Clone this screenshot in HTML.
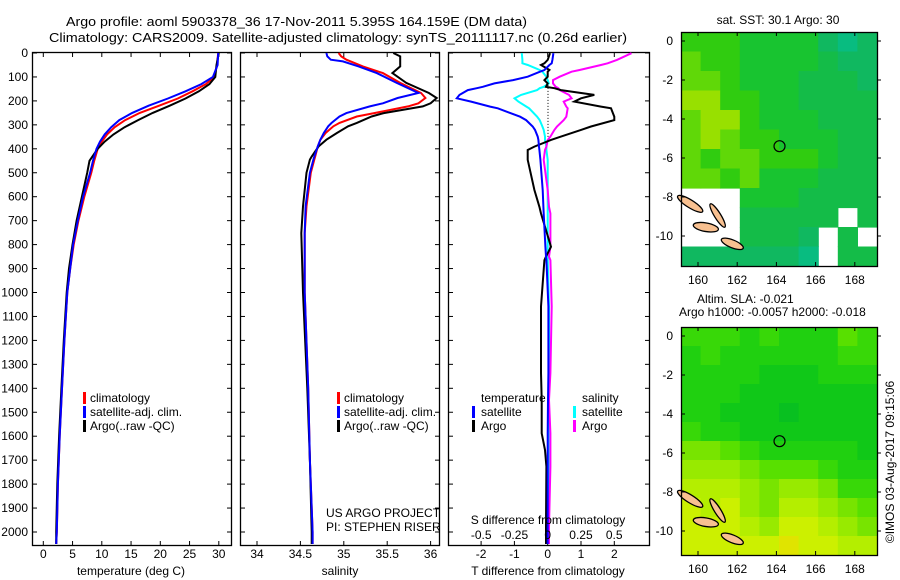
<!DOCTYPE html>
<html><head><meta charset="utf-8">
<style>
html,body{margin:0;padding:0;background:#fff;}
svg{display:block;font-family:"Liberation Sans",sans-serif;}
text{fill:#000;font-size:12px;}
</style></head>
<body>
<svg id="fig" width="900" height="580" viewBox="0 0 900 580" xmlns="http://www.w3.org/2000/svg">
<text x="66" y="26" font-size="13" textLength="461" lengthAdjust="spacingAndGlyphs" style="font-size:13px">Argo profile: aoml 5903378_36 17-Nov-2011 5.395S 164.159E (DM data)</text>
<text x="49" y="42" textLength="578" lengthAdjust="spacingAndGlyphs" style="font-size:13px">Climatology: CARS2009. Satellite-adjusted climatology: synTS_20111117.nc (0.26d earlier)</text>
<g id="g"></g>
</svg>
<script>
// ---------- data ----------
const depths = [0,50,100,130,160,190,220,250,280,310,340,370,400,450,500,600,700,800,900,1000,1200,1400,1600,1800,2000,2050];
const tClim  = [29.9,29.7,29.2,27.8,25.5,23.0,19.8,16.5,14.0,12.2,10.9,10.0,9.3,8.7,8.2,7.0,6.0,5.2,4.6,4.1,3.6,3.2,2.8,2.5,2.3,2.2];
const tSat   = [29.9,29.8,29.0,27.0,24.3,21.3,18.0,15.2,13.0,11.6,10.5,9.7,9.1,8.5,8.0,6.8,5.9,5.1,4.6,4.1,3.6,3.2,2.8,2.5,2.3,2.2];
const tArgo  = [30.0,29.6,29.4,28.4,26.6,24.3,21.6,18.7,16.2,13.9,12.0,10.5,9.3,7.9,7.5,6.6,5.7,5.0,4.4,4.0,3.5,3.1,2.7,2.4,2.2,2.2];

const sDepths = [0,14,28,35,56,84,125,167,188,210,223,251,265,292,306,334,362,390,432,445,500,640,752,1000,1400,1700,2000,2050];
const sClim = [34.94,34.97,35.03,35.08,35.22,35.45,35.65,35.89,35.94,35.86,35.74,35.35,35.15,34.95,34.88,34.79,34.73,34.70,34.67,34.66,34.62,34.57,34.55,34.55,34.59,34.61,34.64,34.64];
const sSat  = [34.80,34.81,34.85,34.99,35.17,35.38,35.61,35.86,35.62,35.45,35.30,35.03,34.95,34.86,34.82,34.77,34.73,34.70,34.66,34.65,34.61,34.56,34.55,34.55,34.59,34.61,34.64,34.64];
const sArgo = [35.57,35.65,35.65,35.65,35.65,35.56,35.72,35.98,36.07,36.00,35.91,35.46,35.32,35.15,35.05,34.92,34.80,34.71,34.63,34.61,34.57,34.53,34.51,34.53,34.58,34.61,34.63,34.63];

const dDepths = [1,29,43,50,71,78,99,113,127,141,147,155,175,189,203,224,231,266,280,307,321,349,363,391,405,446,572,642,670,809,850,865,1058,1336,1449,1588,1657,1727,1978,2050];
const dTSat  = [0.17,0.14,0.12,0.05,-0.1,-0.23,-0.6,-1.04,-1.6,-1.95,-2.13,-2.4,-2.65,-2.73,-2.3,-1.73,-1.5,-0.83,-0.65,-0.45,-0.38,-0.3,-0.28,-0.26,-0.25,-0.22,-0.15,-0.13,-0.12,-0.07,-0.05,-0.04,0.02,0.02,0.01,0.0,0.0,0.0,0.0,0.0];
const dTArgo = [0.07,0.0,-0.1,-0.2,0.05,0.0,0.0,-0.1,0.0,-0.05,0.2,0.4,1.4,1.0,0.8,1.6,1.9,2.0,2.0,1.3,1.0,0.4,0.1,-0.4,-0.6,-0.6,-0.4,-0.25,-0.2,0.1,-0.05,-0.1,-0.2,-0.2,-0.18,-0.18,-0.08,-0.04,-0.05,-0.05];
const dSSat  = [-0.195,-0.19,-0.19,-0.15,-0.06,-0.04,-0.01,0.0,0.008,-0.03,-0.06,-0.08,-0.2,-0.25,-0.22,-0.16,-0.14,-0.08,-0.06,-0.04,-0.03,-0.02,-0.02,-0.01,-0.01,0.0,0.0,0.0,0.0,0.0,0.0,0.0,0.01,0.01,0.01,0.01,0.01,0.01,0.01,0.01];
const dSArgo = [0.63,0.52,0.45,0.4,0.24,0.18,0.09,0.04,0.04,0.06,0.08,0.09,0.16,0.18,0.12,0.14,0.15,0.14,0.12,0.07,0.05,0.02,0.0,-0.01,-0.02,-0.03,0.0,0.01,0.02,0.02,0.01,0.02,0.03,0.02,0.01,0.02,0.02,0.02,0.01,0.01];

const depthTicks = [0,100,200,300,400,500,600,700,800,900,1000,1100,1200,1300,1400,1500,1600,1700,1800,1900,2000];
const tTicks = [0,5,10,15,20,25,30];
const sTicks = [34,34.5,35,35.5,36];
const dTTicks = [-2,-1,0,1,2];
const dSTicks = [-0.5,-0.25,0,0.25,0.5];
const lonTicks = [160,162,164,166,168];
const latTicks = [0,-2,-4,-6,-8,-10];

// SST map grid (index values, -1 = no data), rows north->south
const sstGrid = [
 [5,5,5,4,4,4,4,2,1,2],
 [6,5,5,4,4,4,4,3,2,2],
 [6,6,5,4,4,4,3,3,3,2],
 [7,7,5,5,4,4,3,3,3,3],
 [6,7,7,5,4,4,4,3,3,3],
 [6,7,6,5,5,4,4,4,3,3],
 [6,5,6,6,5,5,5,4,3,3],
 [6,6,5,6,4,4,4,3,3,3],
 [-1,-1,-1,4,4,4,3,3,3,3],
 [-1,-1,-1,3,3,3,3,3,-1,3],
 [-1,-1,-1,3,3,3,2,-1,3,-1],
 [2,2,2,2,2,2,1,-1,3,3]
];
const slaGrid = [
 [3,3,3,2,3,2,2,2,4,3],
 [2,3,2,2,2,2,2,2,3,3],
 [2,2,2,2,1,1,1,2,2,2],
 [2,2,2,1,1,1,1,1,1,1],
 [2,2,1,1,1,0,1,1,1,1],
 [3,2,2,1,1,1,1,1,1,1],
 [5,5,4,3,2,2,2,2,2,1],
 [6,6,6,5,4,4,4,3,2,2],
 [7,7,7,6,5,6,6,5,3,3],
 [8,7,8,6,5,7,7,6,5,4],
 [8,8,8,7,6,8,8,7,6,5],
 [8,8,8,8,8,9,8,8,7,7]
];
const argoLon = 164.159, argoLat = -5.395;

// ---------- helpers ----------
const NS='http://www.w3.org/2000/svg';
const G=document.getElementById('g');
function el(tag,attrs,parent){const e=document.createElementNS(NS,tag);for(const k in attrs)e.setAttribute(k,attrs[k]);(parent||G).appendChild(e);return e;}
function txt(x,y,s,anchor,parent){const t=el('text',{x:x,y:y,'text-anchor':anchor||'start'},parent);t.textContent=s;return t;}

const Y0=52,Y1=545;
const yD=d=>53+d*0.2395;
const xT=v=>43.3+5.85*v;
const xS=v=>257+86.8*(v-34);
const xDT=v=>547.7+33.3*v;
const xDS=v=>547.7+133*v;

function frame(x0,x1,name){
  const r=el('rect',{x:x0+0.5,y:Y0+0.5,width:x1-x0,height:Y1-Y0,fill:'none',stroke:'#000','stroke-width':1.3});
  
  
  depthTicks.forEach(d=>{const y=yD(d);
    el('line',{x1:x0,y1:y,x2:x0+5,y2:y,stroke:'#000'});
    el('line',{x1:x1-4,y1:y,x2:x1,y2:y,stroke:'#000'});});
}
function xticks(vals,fx,labels,x0,x1){
  vals.forEach(v=>{const x=fx(v);
    el('line',{x1:x,y1:Y0,x2:x,y2:Y0+5,stroke:'#000'});
    el('line',{x1:x,y1:Y1-4,x2:x,y2:Y1,stroke:'#000'});
    if(labels){const t=txt(x,558,String(v),'middle');
      
      }
  });
}
function line(xs,ds,fx,color,name,w){
  const pts=xs.map((v,i)=>fx(v).toFixed(1)+','+yD(ds[i]).toFixed(1)).join(' ');
  const p=el('polyline',{points:pts,fill:'none',stroke:color,'stroke-width':w||2,'stroke-linejoin':'miter'});
  
  
}
function legMark(x,y,color){el('rect',{x:x,y:y-10,width:3,height:12,fill:color});}

// y tick labels
depthTicks.forEach(d=>{const t=txt(28,yD(d)+4,String(d),'end');
  
  });

// ---- panel 1: temperature ----
frame(32,231,'temperature-panel');
xticks(tTicks,xT,true);
line(tClim,depths,xT,'#f00','temp-climatology-line');
line(tArgo,depths,xT,'#000','temp-argo-line');
line(tSat,depths,xT,'#00f','temp-satellite-line');
let t=txt(131,575,'temperature (deg C)','middle');


function leg3(x,y0){
  legMark(x,y0,'#f00');txt(x+7,y0,'climatology');
  legMark(x,y0+14,'#00f');txt(x+7,y0+14,'satellite-adj. clim.');
  legMark(x,y0+28,'#000');txt(x+7,y0+28,'Argo(..raw -QC)');
}
const lg1=el('g',{});
leg3(83,402);

// ---- panel 2: salinity ----
frame(240,439,'salinity-panel');
xticks(sTicks,xS,true);
line(sClim,sDepths,xS,'#f00','sal-climatology-line');
line(sArgo,sDepths,xS,'#000','sal-argo-line');
line(sSat,sDepths,xS,'#00f','sal-satellite-line');
t=txt(340,575,'salinity','middle');


leg3(337,402);
t=txt(326,517,'US ARGO PROJECT');


t=txt(326,531,'PI: STEPHEN RISER');



// ---- panel 3: differences ----
frame(448,649,'difference-panel');
xticks(dTTicks,xDT,true);
el('line',{x1:548,y1:yD(133),x2:548,y2:yD(370),stroke:'#000','stroke-dasharray':'1,2'});
line(dSSat,dDepths,xDS,'#0ff','sdiff-satellite-line');
line(dSArgo,dDepths,xDS,'#f0f','sdiff-argo-line');
line(dTArgo,dDepths,xDT,'#000','tdiff-argo-line');
line(dTSat,dDepths,xDT,'#00f','tdiff-satellite-line');
dSTicks.forEach(v=>{const s=txt(xDS(v),539,String(v).replace('-','\u2212').replace('\u22120.','\u22120.'),'middle');
  s.textContent=String(v).replace(/^-/,'-');
  
  });
t=txt(548,524,'S difference from climatology','middle');


t=txt(548,575,'T difference from climatology','middle');


txt(481,402,'temperature');
legMark(472,416,'#00f');txt(481,416,'satellite');
legMark(472,430,'#000');txt(481,430,'Argo');
txt(582,402,'salinity');
legMark(573,416,'#0ff');txt(582,416,'satellite');
legMark(573,430,'#f0f');txt(582,430,'Argo');

// ---- maps ----
const sstColors=['#00c8b0','#08bc80','#10b860','#14bc48','#18c430','#30cc10','#60d808','#98e000','#d0e400','#e8d000','#f0a000'];
const slaColors=['#08c020','#10c818','#20d010','#38d808','#58e000','#78e400','#98ea00','#b4ee00','#ccf000','#e0e400'];
function drawMap(top,bot,grid,colors,name){
  const x0=681,x1=877;
  const xL=lon=>698+(lon-160)*19.6;
  const yL=lat=>top+13-lat*(-19.5)*-1;
  const yLat=lat=>(top+9)+(-lat)*19.5;
  const grp=el('g',{});
  
  
  el('rect',{x:x0,y:top,width:x1-x0,height:bot-top,fill:'#fff'},grp);
  const nr=grid.length,nc=grid[0].length,cw=(x1-x0)/nc,ch=(bot-top)/nr;
  grid.forEach((row,r)=>row.forEach((v,c)=>{
    if(v<0)return;
    const cell=el('rect',{x:x0+c*cw,y:top+r*ch,width:cw+0.6,height:ch+0.6,fill:colors[v]},grp);
    
    
  }));
  // islands
  const isl=[[159.6,-8.35,0.75,0.2,32],[160.4,-9.55,0.65,0.22,10],[161.0,-8.95,0.7,0.16,58],[161.75,-10.4,0.6,0.2,22]];
  isl.forEach(i=>{
    const e=el('ellipse',{cx:xL(i[0]),cy:yLat(i[1]),rx:i[2]*19.6,ry:i[3]*19.5,fill:'#f8c090',stroke:'#000','stroke-width':1.3,transform:`rotate(${i[4]} ${xL(i[0])} ${yLat(i[1])})`},grp);
    
    
  });
  const c=el('circle',{cx:xL(argoLon),cy:yLat(argoLat),r:5.5,fill:'none',stroke:'#000','stroke-width':1.2},grp);
  
  
  el('rect',{x:x0+0.5,y:top+0.5,width:x1-x0,height:bot-top,fill:'none',stroke:'#000','stroke-width':1.3},grp);
  lonTicks.forEach(l=>{const x=xL(l);
    el('line',{x1:x,y1:top,x2:x,y2:top+4,stroke:'#000'},grp);
    el('line',{x1:x,y1:bot-4,x2:x,y2:bot,stroke:'#000'},grp);
    const s=txt(x,bot+18,String(l),'middle',grp);
    
    });
  latTicks.forEach(l=>{const y=yLat(l);
    el('line',{x1:x0,y1:y,x2:x0+4,y2:y,stroke:'#000'},grp);
    el('line',{x1:x1,y1:y,x2:x1+4,y2:y,stroke:'#000'},grp);
    const s=txt(673,y+4,String(l),'end',grp);
    
    });
}
drawMap(32,266,sstGrid,sstColors,'sst-map');
drawMap(327,555,slaGrid,slaColors,'sla-map');
t=txt(778,24,'sat. SST: 30.1  Argo: 30','middle');


t=txt(697,303,'Altim. SLA: -0.021');


t=txt(679,316,'Argo h1000: -0.0057 h2000: -0.018');


t=el('text',{x:0,y:0,'text-anchor':'middle',transform:'translate(894,462) rotate(-90)'});
t.textContent='\u00A9IMOS 03-Aug-2017 09:15:06';


</script>
</body></html>
